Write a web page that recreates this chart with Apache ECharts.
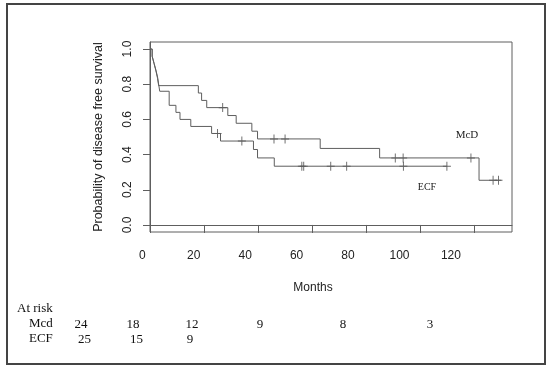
<!DOCTYPE html>
<html>
<head>
<meta charset="utf-8">
<script src="https://cdn.jsdelivr.net/npm/echarts@6/dist/echarts.min.js"></script>
<style>
	html, body { margin:0; padding:0; background:#fff; }
	#km-chart { width:550px; height:367px; }
</style>
</head>
<body>
<div id="km-chart"></div>
<script>
// survival steps [months, probability]
var mcdSteps = [[0,1],[0.8,0.958],[1.5,0.917],[2.2,0.875],[2.8,0.833],[3.2,0.792],[17.9,0.75],[19.1,0.708],[21,0.667],[28.8,0.622],[31.9,0.578],[37.7,0.533],[39.8,0.489],[63,0.435],[85,0.381],[121.8,0.254],[130,0.254]];
var ecfSteps = [[0,1],[0.8,0.96],[1.5,0.92],[2.2,0.88],[2.8,0.84],[3.2,0.80],[3.6,0.76],[7.1,0.68],[9.6,0.64],[11.1,0.60],[15.1,0.56],[22.8,0.52],[26.1,0.477],[38.3,0.429],[39.8,0.381],[46,0.334],[110,0.334]];
// censored observations
var mcdCensored = [[26.9,0.667],[45.9,0.489],[50,0.489],[90.8,0.381],[93.7,0.381],[118.8,0.381],[127,0.254],[129,0.254]];
var ecfCensored = [[25,0.52],[34,0.477],[56.2,0.334],[56.9,0.334],[66.9,0.334],[72.8,0.334],[93.8,0.334],[109.9,0.334]];

var xTicks = [0,20,40,60,80,100,120];
var yTicks = [0,0.2,0.4,0.6,0.8,1.0];

// number at risk
var riskGroups = ['Mcd','ECF'];
var atRiskMcd = [24,18,12,9,8,3];
var atRiskEcf = [25,15,9];

function kmChart(){
	var kmChart = echarts.init(document.getElementById('km-chart'));

	var lineColor = '#5e5e5e';
	var plusSymbol = 'path://M5,0L5,10M0,5L10,5';
	var serif = 'Liberation Serif';
	var sans = 'Liberation Sans';

	// at risk table texts
	var mcdRiskX = [81,133,192,260,343,430];
	var ecfRiskX = [84.5,136.5,190];
	var riskTexts = [
		{type:'text', left:17, top:302, style:{text:'At risk', font:'13px "' + serif + '"', fill:'#111'}},
		{type:'text', left:29, top:317, style:{text:riskGroups[0], font:'13px "' + serif + '"', fill:'#111'}},
		{type:'text', left:29, top:332, style:{text:riskGroups[1], font:'13px "' + serif + '"', fill:'#111'}}
	];
	for (var i = 0; i < atRiskMcd.length; i++) {
		riskTexts.push({type:'text', x:mcdRiskX[i], y:325, style:{text:String(atRiskMcd[i]), font:'13px "' + serif + '"', fill:'#111', align:'center', verticalAlign:'middle'}});
	}
	for (var j = 0; j < atRiskEcf.length; j++) {
		riskTexts.push({type:'text', x:ecfRiskX[j], y:340, style:{text:String(atRiskEcf[j]), font:'13px "' + serif + '"', fill:'#111', align:'center', verticalAlign:'middle'}});
	}

	var option = {
		animation: false,
		grid: [
			{left:150, top:42, width:362, height:190, show:true, borderColor:lineColor, borderWidth:1},
			// only carries the x tick labels, which sit a bit left of the ticks
			{left:142.3, top:236, width:308.6, height:4}
		],
		xAxis: [
			{
				gridIndex:0, type:'value', min:0, max:134,
				axisLine:{show:true, lineStyle:{color:lineColor}},
				axisTick:{show:true, customValues:xTicks, length:8, lineStyle:{color:lineColor}},
				axisLabel:{show:false},
				splitLine:{show:false}
			},
			{
				gridIndex:1, type:'value', min:0, max:120, interval:20,
				axisLine:{show:false},
				axisTick:{show:false},
				axisLabel:{show:true, margin:10, fontFamily:sans, fontSize:12, color:'#222'},
				splitLine:{show:false}
			}
		],
		yAxis: [
			{
				gridIndex:0, type:'value', min:-0.04, max:1.04,
				name:'Probability of disease free survival',
				nameLocation:'middle', nameGap:45, nameRotate:90,
				nameTextStyle:{fontFamily:sans, fontSize:12.5, color:'#222'},
				axisLine:{show:true, lineStyle:{color:lineColor}},
				axisTick:{show:true, customValues:yTicks, length:7, lineStyle:{color:lineColor}},
				axisLabel:{
					show:true, customValues:yTicks, rotate:90, margin:16,
					fontFamily:sans, fontSize:12, color:'#222',
					formatter:function(v){ return v.toFixed(1); }
				},
				splitLine:{show:false}
			},
			{gridIndex:1, type:'value', show:false}
		],
		graphic: [
			{type:'rect', shape:{x:7, y:4, width:538, height:360}, style:{fill:'none', stroke:'#444', lineWidth:2}},
			{type:'text', x:313, y:288, style:{text:'Months', font:'12px "' + sans + '"', fill:'#222', align:'center', verticalAlign:'middle'}},
			{type:'text', x:467, y:135.5, style:{text:'McD', font:'11px "' + serif + '"', fill:'#222', align:'center', verticalAlign:'middle'}},
			{type:'text', x:427, y:187, style:{text:'ECF', font:'10px "' + serif + '"', fill:'#222', align:'center', verticalAlign:'middle'}}
		].concat(riskTexts),
		series: [
			{
				name:'McD', type:'line', step:'end', xAxisIndex:0, yAxisIndex:0,
				symbol:'none', silent:true,
				lineStyle:{color:lineColor, width:1},
				data:mcdSteps
			},
			{
				name:'ECF', type:'line', step:'end', xAxisIndex:0, yAxisIndex:0,
				symbol:'none', silent:true,
				lineStyle:{color:lineColor, width:1},
				data:ecfSteps
			},
			{
				name:'McD censored', type:'scatter', xAxisIndex:0, yAxisIndex:0,
				symbol:plusSymbol, symbolSize:[8,9], silent:true,
				itemStyle:{color:'rgba(0,0,0,0)', borderColor:'#444', borderWidth:1},
				data:mcdCensored
			},
			{
				name:'ECF censored', type:'scatter', xAxisIndex:0, yAxisIndex:0,
				symbol:plusSymbol, symbolSize:[8,9], silent:true,
				itemStyle:{color:'rgba(0,0,0,0)', borderColor:'#444', borderWidth:1},
				data:ecfCensored
			}
		]
	};

	kmChart.setOption(option);
}

kmChart();
</script>
</body>
</html>
